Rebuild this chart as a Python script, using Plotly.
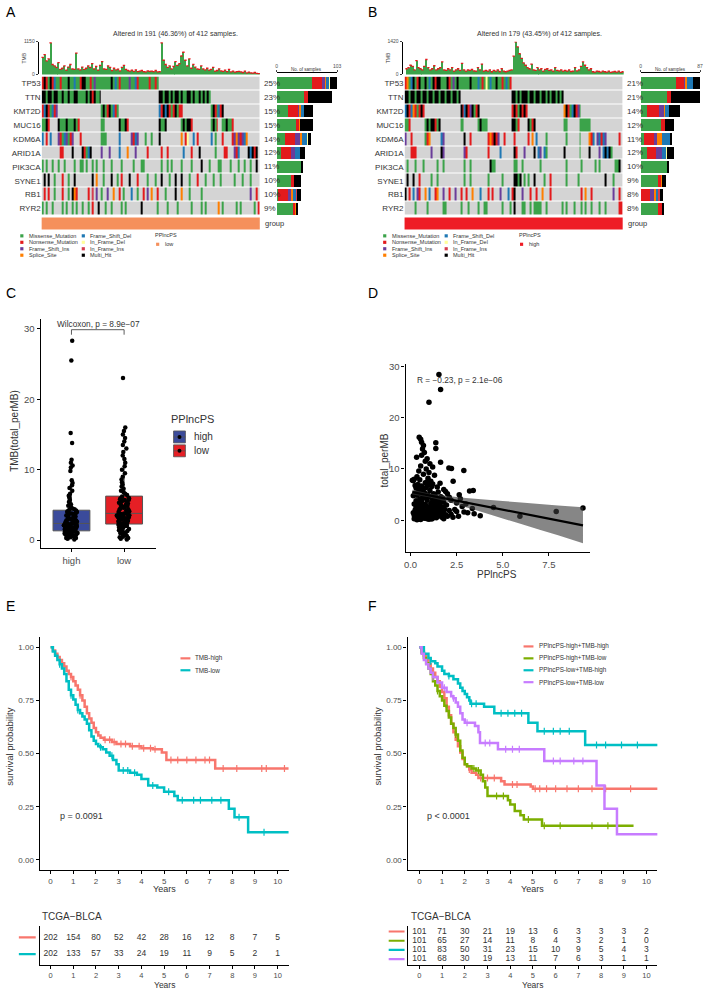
import numpy as np
import plotly.graph_objects as go

W, H = 708, 992
FONT = "Liberation Sans"
GRAY = "#4D4D4D"

# ---------------- oncoplot data (A: PPlncPS low, B: PPlncPS high) ----------------
genes = ["TP53", "TTN", "KMT2D", "MUC16", "KDM6A", "ARID1A", "PIK3CA", "SYNE1", "RB1", "RYR2"]
pct_A = ["25%", "23%", "15%", "15%", "14%", "12%", "11%", "10%", "10%", "9%"]
pct_B = ["21%", "21%", "14%", "12%", "11%", "12%", "10%", "9%", "8%", "8%"]

# one char per sample bin: . none, M missense, N nonsense, I fs_ins, S splice,
# D fs_del, d if_del, i if_ins, H multi_hit
onco_A = [
    "NHNMHNDMMN MMMHMMDMMN HHMMNMIMMM MMMMMHMDMN MMMMIMMDNM MMMMNMMNM. .......... .......... .......... .......... ..........",
    "HHMHHMHHMM HMMHMMHHMM MMHMHNHMMH .......... .......... .........H HMHHMHMHHM HMMHHMHMMH MHMHM..... .......... ..........",
    "NDHNMDNI.. .......... .......... MHMNHMDNM. .......... .........D NHDHNMNHMN N......... .....MHNMD NH........ ..........",
    "MMHN....HM MMHMMMHMN. .......... MM.......H MMHN...... .........H MMH....... MHMHHN.... .....MHMN. .MMHMMN... ..........",
    "D.N.D...IN MDIMNI...N .......... MMM......D .....INDI. ..M..M...H .......... S.Nd..D.N. .....D.M.. .N....NISI NIDS......",
    ".........N N....H.... HNMDH..... I...I....D ...S...I.. ...N...... N..N...... .D...N...H .......M.. ..NN...IND ....HDHNH.",
    "M.M..M..M. .M....M..M M.M..M.M.. .M...M.... M.....M... MM........ M..M.M.... M....M.... H...M....M M....M...M ..M..M..H.",
    ".H.H..M... N..M..H... .....H.S.. .M...H..M. N...H...N. ...M...M.. H...M..H.. H...M...N. ..M...M... M......M.. .M...M....",
    ".N.N..M... N..M.HSN.. ...N.i.I.. M..I..S..N .M...D..M. .N.I.S..N. ..M....H.. S...M..... M......... .......... .....I..N.",
    "M.M..M.... M.M..M.M.. M..M.N..H. ..M..M.... M.M....... H.......M. ...M....M. .....M.... M.M......S .M......M. M......M.N",
]
onco_B = [
    "NSMDHMNHMM HMDMHNHHMM MHNMIMHMMM MMMHMMMDMN MdMDMMHMMN MDMN...... .......... .......... .......... .......... ..........",
    "HHMHHMHHMH HMHHMHHMHH MHHMHHMH.. .......... .......... ....HHMHMH HHMHHMHHMH HMHMHHMHMH .......... .......... ..........",
    "DHNDSNMNHN .......... ........HN DHNIHMNH.. .......... ....NHNMHN HN........ .......... SHNMDHNIM. .......... ..........",
    "MMN....... MHMHHNMH.. ........MM .......MHM MM........ ....HHMN.. ..HMNH.... .......... MM......MM MMMM...... ..........",
    "I..N...... MNS.....DI .......... H..N...... ..NSNHNI.. N....N.... ..N.S.D... .M........ .M......M. ...SND.IDN DI......N.",
    "...NNN.... ...I....HI .......... IN........ ..N.....D. .....HN... I....H.DI. DM........ H.......M. ...H....I. DHDHM.....",
    ".M...M...M ......M..M .......... M..M...... ...HMM.... .....MM..M ........M. .......... .M.......M ......M.M. ......MMH.",
    ".H..H..N.. ...M..M... .......... M..M...... ..M......M .....HHMH. M.M..H.... M..N...... .M.....M.. .......... .H...M....",
    "H.N.D.IN.. S.D..NS..I ..N..I..N. .N..S...D. ..N.N...I. ..D.NH...I ...N..N..S ...N...... .........N .S..N..... .....I..N.",
    ".....M.... .M.......M M.......M. ..M....M.. MM.......M ...M.H...M M..M.MMMM. .M.......M .M...M...M .M..M...M. .M......NN",
]

tmb_A = [600, 700, 480, 550, 1110, 350, 300, 250, 420, 180,
         220, 300, 150, 260, 350, 200, 180, 750, 200, 160,
         260, 180, 220, 300, 250, 380, 200, 280, 150, 320,
         450, 200, 180, 300, 250, 140, 220, 160, 190, 130,
         250, 320, 180, 140, 120, 150, 110, 160, 100, 120,
         140, 100, 90, 130, 110, 120, 100, 140, 90, 100,
         1110, 500, 350, 250, 300, 200, 280, 450, 320, 380,
         650, 780, 500, 300, 550, 220, 350, 260, 200, 180,
         300, 200, 160, 220, 150, 180, 250, 120, 140, 200,
         130, 110, 150, 100, 180, 90, 120, 80, 100, 110,
         90, 70, 120, 60, 80, 60, 50, 70, 40, 30]
tmb_B = [250, 300, 400, 350, 200, 600, 300, 250, 200, 350,
         650, 300, 200, 250, 380, 200, 250, 300, 550, 200,
         180, 250, 200, 300, 150, 200, 250, 180, 480, 200,
         150, 200, 180, 220, 160, 150, 300, 200, 450, 150,
         180, 150, 200, 120, 180, 150, 200, 130, 250, 150,
         120, 150, 180, 200, 800, 1420, 1200, 900, 700, 500,
         400, 300, 250, 450, 200, 180, 300, 200, 250, 150,
         220, 250, 180, 200, 150, 300, 180, 160, 200, 150,
         180, 150, 200, 130, 150, 300, 160, 200, 350, 550,
         400, 300, 200, 250, 120, 100, 150, 130, 100, 150,
         120, 100, 150, 90, 110, 130, 100, 150, 90, 120]

# per-gene sample counts by variant class (right-hand bars)
A_missense = [61, 46, 19, 33, 14, 7, 41, 24, 3, 28]
A_nonsense = [17, 7, 17, 6, 18, 18, 0, 5, 17, 4]
A_fs_ins = [4, 0, 3, 0, 8, 7, 0, 0, 4, 0]
A_splice = [2, 0, 2, 1, 4, 0, 0, 1, 3, 2]
A_fs_del = [6, 0, 6, 0, 8, 8, 0, 0, 6, 0]
A_if_del = [1, 0, 0, 0, 1, 0, 0, 0, 0, 0]
A_if_ins = [0, 0, 0, 0, 1, 0, 0, 0, 1, 0]
A_multi = [12, 42, 15, 22, 4, 9, 4, 11, 7, 3]
B_missense = [52, 39, 9, 30, 5, 9, 38, 25, 1, 25]
B_nonsense = [11, 5, 18, 6, 14, 14, 0, 5, 13, 6]
B_fs_ins = [2, 0, 7, 0, 5, 8, 0, 0, 5, 0]
B_splice = [3, 0, 2, 0, 7, 0, 0, 1, 4, 1]
B_fs_del = [9, 0, 5, 0, 12, 7, 0, 0, 3, 0]
B_if_del = [0, 0, 1, 0, 0, 1, 0, 0, 0, 0]
B_if_ins = [0, 0, 0, 0, 0, 0, 0, 0, 2, 0]
B_multi = [10, 43, 16, 13, 2, 10, 3, 6, 5, 1]

vc_names = ["Missense_Mutation", "Nonsense_Mutation", "Frame_Shift_Ins", "Splice_Site",
            "Frame_Shift_Del", "In_Frame_Del", "In_Frame_Ins", "Multi_Hit"]

# ---------------- C: TMB by group ----------------
C_high = [0.1, 0.2, 0.3, 0.3, 0.4, 0.5, 0.5, 0.6, 0.6, 0.7, 0.7, 0.8, 0.8, 0.9, 0.9, 1.0, 1.0, 1.0, 1.1, 1.1, 1.2, 1.2, 1.2, 1.25, 1.3,
          1.35, 1.4, 1.4, 1.5, 1.5, 1.6, 1.6, 1.7, 1.7, 1.8, 1.8, 1.8, 1.9, 1.9, 2.0, 2.0, 2.0, 2.1, 2.1, 2.2, 2.2, 2.2, 2.3, 2.3, 2.35,
          2.4, 2.5, 2.5, 2.6, 2.7, 2.8, 2.8, 2.9, 3.0, 3.0, 3.1, 3.2, 3.3, 3.4, 3.4, 3.5, 3.6, 3.7, 3.8, 3.8, 3.9, 4.0, 4.0, 4.1, 4.2,
          4.3, 4.4, 4.5, 4.7, 4.9, 5.1, 5.4, 5.7, 6.0, 6.3, 6.6, 7.0, 7.4, 7.8, 8.1, 8.5, 9.8, 10.3, 10.6, 11.0, 11.4, 13.8, 15.2, 25.5, 28.3]
C_low = [0.1, 0.2, 0.3, 0.4, 0.5, 0.6, 0.7, 0.8, 0.9, 1.0, 1.1, 1.2, 1.3, 1.4, 1.5, 1.6, 1.7, 1.8, 1.9, 1.95, 2.0, 2.05, 2.1, 2.2, 2.25,
         2.3, 2.4, 2.45, 2.5, 2.6, 2.7, 2.75, 2.8, 2.9, 3.0, 3.0, 3.1, 3.15, 3.2, 3.3, 3.35, 3.4, 3.45, 3.5, 3.5, 3.55, 3.6, 3.65, 3.7, 3.7,
         3.8, 3.9, 4.0, 4.1, 4.2, 4.3, 4.4, 4.5, 4.6, 4.7, 4.8, 4.9, 5.0, 5.1, 5.2, 5.3, 5.4, 5.5, 5.6, 5.7, 5.75, 5.8, 5.9, 5.95, 6.0,
         6.2, 6.4, 6.6, 6.8, 7.0, 7.3, 7.6, 7.9, 8.2, 8.6, 9.0, 9.5, 10.0, 10.5, 11.0, 11.5, 12.0, 12.5, 13.0, 13.5, 14.0, 14.5, 15.0, 15.5, 16.0, 23.0]

# ---------------- D: PPlncPS vs TMB ----------------
D_x = [1.54, 1.63, 1.0, 0.47, 0.33, 1.37, 1.37, 1.63, 2.08, 2.22, 2.89, 2.31, 3.2, 3.4, 2.64, 3.78, 4.5, 5.93, 7.9, 9.35,
       3.35, 3.1, 3.45, 2.9, 3.0, 2.5, 2.7, 2.4, 2.2, 2.6,
       0.55, 0.6, 0.7, 0.65, 0.75, 0.6, 0.9, 0.8, 1.05, 0.55, 1.2, 0.85, 0.45, 1.0, 0.7, 1.3, 0.35, 0.95, 0.2, 0.15,
       1.6, 1.1, 0.5, 1.45, 1.8, 1.9, 2.0, 0.25, 0.1,
       0.2, 0.3, 0.4, 0.5, 0.6, 0.7, 0.8, 0.9, 1.0, 1.1, 1.2, 1.3, 1.4, 1.5, 1.6, 1.7, 1.8, 1.9, 2.0,
       0.15, 0.25, 0.35, 0.45, 0.55, 0.65, 0.75, 0.85, 0.95, 1.05, 1.15, 1.25, 1.35, 1.45, 1.55, 1.65, 1.75, 1.85, 1.95,
       0.2, 0.3, 0.4, 0.5, 0.6, 0.7, 0.8, 0.9, 1.0, 1.1, 1.2, 1.3, 1.4, 1.5, 1.6, 1.7, 1.8,
       0.15, 0.25, 0.35, 0.45, 0.55, 0.65, 0.75, 0.85, 0.95, 1.05, 1.15, 1.25, 1.35, 1.5, 1.65,
       0.3, 0.4, 0.6, 0.8, 1.0, 1.2, 0.5, 0.9,
       0.2, 0.3, 0.4, 0.5, 0.6, 0.7, 0.8, 0.9, 1.0, 1.1, 1.2, 1.3, 1.4, 1.6, 1.8, 2.1, 2.3, 2.5, 2.8, 2.2, 2.1, 1.75,
       0.35, 0.55, 0.75, 1.15]
D_y = [28.4, 25.5, 23.0, 16.2, 12.3, 15.1, 14.0, 11.3, 10.2, 10.1, 9.7, 7.6, 5.7, 5.8, 5.0, 0.9, 2.5, 0.8, 1.7, 2.4,
       2.3, 1.5, 1.3, 1.6, 3.2, 3.4, 4.2, 2.1, 1.2, 0.8,
       15.8, 15.2, 14.6, 13.9, 13.2, 12.7, 12.0, 11.5, 11.0, 10.6, 10.4, 10.0, 9.6, 9.3, 9.0, 8.8, 8.5, 8.2, 8.0, 7.7,
       7.2, 7.6, 7.9, 6.5, 6.0, 5.6, 5.2, 6.8, 7.8,
       0.3, 0.5, 0.2, 0.8, 0.4, 1.0, 0.6, 0.3, 1.2, 0.7, 0.4, 1.0, 0.5, 1.3, 0.9, 0.6, 1.4, 1.1, 0.8,
       1.5, 2.0, 1.8, 2.5, 1.6, 2.2, 1.9, 2.8, 2.1, 2.6, 1.7, 2.4, 2.0, 2.9, 2.2, 1.8, 2.5, 2.1, 3.0,
       3.2, 3.8, 3.4, 4.1, 3.6, 4.4, 3.1, 3.9, 4.6, 3.3, 4.0, 3.5, 4.3, 3.7, 3.2, 4.0, 3.5,
       4.8, 5.3, 4.9, 5.7, 5.1, 6.0, 5.4, 6.4, 5.0, 5.8, 6.6, 5.2, 4.7, 5.5, 4.6,
       6.3, 7.0, 6.7, 7.3, 6.9, 7.1, 6.1, 7.5,
       1.0, 2.6, 1.1, 3.0, 0.9, 2.9, 1.4, 4.8, 0.2, 2.3, 1.5, 2.8, 1.9, 2.6, 0.3, 1.9, 0.6, 1.7, 2.7, 3.9, 4.5, 4.3,
       0.1, 0.15, 0.4, 0.25]
fit_x = [0.1, 1.0, 2.0, 3.0, 4.0, 5.0, 6.0, 7.0, 8.0, 9.35]
fit_y = [5.5, 4.87, 4.17, 3.47, 2.77, 2.07, 1.37, 0.67, -0.03, -0.97]
fit_hi = [5.95, 5.22, 4.72, 4.37, 4.07, 3.77, 3.47, 3.17, 2.87, 2.53]
fit_lo = [5.05, 4.52, 3.62, 2.57, 1.47, 0.37, -0.73, -1.83, -2.93, -4.47]

# ---------------- E / F: Kaplan-Meier ----------------
E_high_t = [0, 0.1, 0.2, 0.3, 0.4, 0.5, 0.6, 0.7, 0.8, 0.9, 1.0, 1.1, 1.2, 1.3, 1.4, 1.5, 1.6, 1.7, 1.8, 1.9, 2.0, 2.1, 2.2,
            2.35, 2.5, 2.7, 2.9, 3.1, 3.5, 4.0, 4.5, 4.9, 5.1, 5.5, 7.2, 7.25, 10.5]
E_high_s = [1.0, 0.985, 0.97, 0.955, 0.94, 0.925, 0.91, 0.89, 0.875, 0.86, 0.84, 0.82, 0.80, 0.775, 0.75, 0.72, 0.69, 0.665,
            0.645, 0.62, 0.60, 0.585, 0.575, 0.565, 0.565, 0.555, 0.545, 0.545, 0.535, 0.525, 0.52, 0.505, 0.47, 0.47, 0.47, 0.43, 0.43]
E_low_t = [0, 0.1, 0.2, 0.3, 0.4, 0.5, 0.6, 0.7, 0.8, 0.9, 1.0, 1.1, 1.2, 1.3, 1.4, 1.5, 1.6, 1.7, 1.8, 1.9, 2.0, 2.1, 2.2, 2.3,
           2.45, 2.6, 2.75, 2.9, 3.0, 3.5, 3.8, 4.0, 4.3, 4.7, 5.0, 5.45, 5.6, 7.8, 7.85, 8.1, 8.7, 10.5]
E_low_s = [1.0, 0.98, 0.96, 0.94, 0.92, 0.90, 0.875, 0.84, 0.80, 0.775, 0.755, 0.73, 0.705, 0.69, 0.675, 0.66, 0.64, 0.61, 0.58,
           0.56, 0.545, 0.535, 0.53, 0.52, 0.505, 0.49, 0.47, 0.45, 0.42, 0.41, 0.40, 0.38, 0.35, 0.34, 0.32, 0.30, 0.28, 0.28,
           0.24, 0.20, 0.13, 0.13]
E_high_cens = [0.3, 0.9, 1.3, 2.4, 2.6, 2.8, 3.1, 3.3, 3.6, 3.9, 4.1, 4.4, 4.6, 5.3, 5.6, 6.0, 6.4, 6.8, 7.0, 7.6, 8.2, 9.3, 9.5, 10.3]
E_low_cens = [0.4, 0.9, 1.2, 2.2, 2.7, 3.2, 3.4, 3.7, 4.5, 5.2, 5.8, 6.3, 6.6, 7.1, 7.5, 8.3, 9.4]

F_hh_t = [0, 0.1, 0.2, 0.3, 0.4, 0.5, 0.6, 0.7, 0.8, 0.9, 1.0, 1.1, 1.2, 1.3, 1.4, 1.5, 1.6, 1.7, 1.8, 1.9, 2.0, 2.1, 2.2, 2.3,
          2.5, 2.6, 3.6, 3.75, 4.9, 5.0, 10.5]
F_hh_s = [1.0, 0.98, 0.96, 0.94, 0.92, 0.90, 0.88, 0.86, 0.84, 0.815, 0.79, 0.76, 0.72, 0.68, 0.64, 0.60, 0.565, 0.535, 0.505,
          0.475, 0.45, 0.44, 0.425, 0.41, 0.40, 0.385, 0.37, 0.355, 0.345, 0.335, 0.335]
F_hl_t = [0, 0.1, 0.2, 0.3, 0.4, 0.5, 0.6, 0.7, 0.8, 0.9, 1.0, 1.1, 1.2, 1.3, 1.4, 1.5, 1.6, 1.7, 1.8, 1.9, 2.0, 2.1, 2.3, 2.5,
          2.7, 2.8, 2.9, 3.0, 3.9, 4.0, 4.2, 4.45, 4.6, 5.4, 9.43]
F_hl_s = [1.0, 0.975, 0.95, 0.925, 0.90, 0.875, 0.84, 0.82, 0.795, 0.77, 0.75, 0.725, 0.70, 0.67, 0.64, 0.62, 0.59, 0.56, 0.515,
          0.48, 0.45, 0.44, 0.43, 0.42, 0.40, 0.37, 0.34, 0.30, 0.28, 0.26, 0.23, 0.21, 0.19, 0.16, 0.16]
F_lh_t = [0, 0.2, 0.4, 0.5, 0.7, 0.8, 1.0, 1.1, 1.3, 1.5, 1.7, 1.8, 1.9, 2.0, 2.1, 2.2, 2.25, 2.85, 3.3, 4.8, 5.2, 7.3, 10.5]
F_lh_s = [1.0, 0.97, 0.95, 0.935, 0.925, 0.91, 0.89, 0.875, 0.865, 0.85, 0.83, 0.81, 0.795, 0.78, 0.765, 0.75, 0.735, 0.72,
          0.69, 0.645, 0.605, 0.54, 0.54]
F_ll_t = [0, 0.1, 0.2, 0.3, 0.4, 0.5, 0.6, 0.8, 1.0, 1.2, 1.4, 1.5, 1.6, 1.7, 1.8, 1.9, 2.0, 2.45, 2.6, 2.67, 3.46, 5.5, 7.8,
          8.15, 8.7, 10.5]
F_ll_s = [1.0, 0.97, 0.94, 0.92, 0.90, 0.88, 0.86, 0.835, 0.81, 0.79, 0.77, 0.76, 0.74, 0.72, 0.69, 0.66, 0.645, 0.63, 0.60,
          0.55, 0.52, 0.465, 0.35, 0.24, 0.12, 0.12]
F_hh_cens = [0.6, 1.1, 2.2, 2.7, 3.0, 3.3, 4.1, 4.3, 5.1, 5.3, 5.6, 6.0, 6.5, 7.0, 7.6, 8.2, 9.3]
F_hl_cens = [0.8, 1.6, 2.4, 2.6, 3.4, 3.7, 4.8, 5.5, 6.2, 7.6, 8.3]
F_lh_cens = [0.5, 1.3, 2.3, 2.5, 3.6, 3.9, 4.2, 4.5, 5.5, 5.9, 6.2, 6.6, 7.8, 8.2, 8.9, 9.6]
F_ll_cens = [0.6, 1.1, 1.5, 2.1, 2.9, 3.1, 3.8, 4.1, 4.4, 5.9, 6.2, 6.8, 7.2]

years = list(range(11))
risk_E_high = [202, 154, 80, 52, 42, 28, 16, 12, 8, 7, 5]
risk_E_low = [202, 133, 57, 33, 24, 19, 11, 9, 5, 2, 1]
risk_F_hh = [101, 71, 30, 21, 19, 13, 6, 3, 3, 3, 2]
risk_F_hl = [101, 65, 27, 14, 11, 8, 4, 3, 2, 1, 0]
risk_F_lh = [101, 83, 50, 31, 23, 15, 10, 9, 5, 4, 3]
risk_F_ll = [101, 68, 30, 19, 13, 11, 7, 6, 3, 1, 1]

# ---------------- styling ----------------
code = {".": 0, "M": 1, "N": 2, "I": 3, "S": 4, "D": 5, "d": 6, "i": 7, "H": 8}
vc_col = ["#D4D4D4", "#3BA34A", "#E31A1C", "#6A3D9A", "#FF7F00", "#1F78B4", "#FFFF99", "#D53E4F", "#000000"]
scale = []
for k, c in enumerate(vc_col):
    scale += [[k / 9, c], [(k + 1) / 9, c]]
KM_RED, KM_GRN, KM_CYA, KM_PUR = "#F8766D", "#7CAE00", "#00BFC4", "#C77CFF"
NCOL = 110


def dx(a, b):
    return [a / W, b / W]


def dy(top, bot):
    return [1 - bot / H, 1 - top / H]


def px(x):
    return x / W


def py(y):
    return 1 - y / H


fig = go.Figure()
annots, shapes = [], []


def ann(text, x, y, size, xa="left", ya="middle", color="#333333", angle=0):
    annots.append(dict(text=text, x=px(x), y=py(y), xref="paper", yref="paper", xanchor=xa, yanchor=ya,
                       showarrow=False, textangle=angle, font=dict(size=size, color=color, family=FONT)))


def rect(x0, y0, x1, y1, fill, line=None, lw=0):
    shapes.append(dict(type="rect", xref="paper", yref="paper", x0=px(x0), x1=px(x1), y0=py(y1), y1=py(y0),
                       fillcolor=fill, line=dict(color=line or fill, width=lw)))


axes = {}
panels = [
    dict(onco=onco_A, tmb=tmb_A, tmax=1150, pct=pct_A, cnt=[A_missense, A_nonsense, A_fs_ins, A_splice,
                                                            A_fs_del, A_if_del, A_if_ins, A_multi],
         cmax=103, n=(1, 2, 3), bar_dom=(37, 260), hm_dom=(40, 260), rb_dom=(277, 338), pct_x=262,
         title="Altered in 191 (46.36%) of 412 samples.", title_x=175, grp_col="#F5905C", grp_lab="low",
         leg_x=(20, 82, 152)),
    dict(onco=onco_B, tmb=tmb_B, tmax=1420, pct=pct_B, cnt=[B_missense, B_nonsense, B_fs_ins, B_splice,
                                                            B_fs_del, B_if_del, B_if_ins, B_multi],
         cmax=87, n=(4, 5, 6), bar_dom=(404, 627), hm_dom=(406, 626), rb_dom=(644, 704), pct_x=628,
         title="Altered in 179 (43.45%) of 412 samples.", title_x=542, grp_col="#EE1C25", grp_lab="high",
         leg_x=(386, 448, 519)),
]

for p in panels:
    nb, nh, nr = p["n"]
    # top TMB bars
    xs = list(range(NCOL))
    fig.add_trace(go.Bar(x=xs, y=p["tmb"], marker=dict(color="#3BA34A", line=dict(width=0)), width=0.85,
                         xaxis=f"x{nb}", yaxis=f"y{nb}", hoverinfo="skip"))
    fig.add_trace(go.Scatter(x=xs, y=p["tmb"], mode="markers", xaxis=f"x{nb}", yaxis=f"y{nb}", hoverinfo="skip",
                             marker=dict(symbol="line-ew", size=1.7, line=dict(color="#E31A1C", width=1.3))))
    axes[f"xaxis{nb}"] = dict(domain=dx(*p["bar_dom"]), range=[-2, NCOL - 0.5], visible=False, anchor=f"y{nb}")
    axes[f"yaxis{nb}"] = dict(domain=dy(38, 71), range=[0, p["tmax"]], tickvals=[0, p["tmax"]], ticks="outside",
                              ticklen=2, showline=True, linecolor="black", linewidth=1, anchor=f"x{nb}",
                              tickfont=dict(size=5, color=GRAY), showgrid=False, zeroline=False)
    ann("TMB", p["bar_dom"][0] - 15, 54, 5, xa="center", angle=-90)
    # oncoplot matrix
    z = [[code[ch] for ch in row.replace(" ", "")[:NCOL].ljust(NCOL, ".")] for row in p["onco"]]
    fig.add_trace(go.Heatmap(z=z, x=xs, y=list(range(10)), colorscale=scale, zmin=-0.5, zmax=8.5,
                             showscale=False, ygap=1, xaxis=f"x{nh}", yaxis=f"y{nh}", hoverinfo="skip"))
    axes[f"xaxis{nh}"] = dict(domain=dx(*p["hm_dom"]), range=[-0.5, NCOL - 0.5], visible=False, anchor=f"y{nh}")
    axes[f"yaxis{nh}"] = dict(domain=dy(73, 213), range=[9.5, -0.5], tickvals=list(range(10)), ticktext=genes,
                              ticks="", showline=False, showgrid=False, zeroline=False, anchor=f"x{nh}",
                              tickfont=dict(size=8, color="#333333"))
    for i, t in enumerate(p["pct"]):
        ann(t, p["pct_x"], 73 + 14 * i + 7, 8)
    # right-hand bars
    for k, vals in enumerate(p["cnt"]):
        fig.add_trace(go.Bar(x=vals, y=list(range(10)), orientation="h", width=0.86,
                             marker=dict(color=vc_col[k + 1], line=dict(width=0)),
                             xaxis=f"x{nr}", yaxis=f"y{nr}", hoverinfo="skip"))
    axes[f"xaxis{nr}"] = dict(domain=dx(*p["rb_dom"]), range=[0, p["cmax"]], side="top", anchor=f"y{nr}",
                              tickvals=[0, p["cmax"]], ticks="outside", ticklen=2, showline=True,
                              linecolor="black", linewidth=0.8, tickfont=dict(size=5, color=GRAY),
                              showgrid=False, zeroline=False)
    axes[f"yaxis{nr}"] = dict(domain=dy(69, 213), range=[9.5, -0.786], visible=False, anchor=f"x{nr}")
    ann("No. of samples", sum(p["rb_dom"]) / 2, 66, 4.5, xa="center")
    # title, group bar, legend
    ann(p["title"], p["title_x"], 30, 7, xa="center")
    rect(p["hm_dom"][0], 215, p["hm_dom"][1], 227, p["grp_col"])
    ann("group", p["pct_x"] + 1, 221, 7.5)
    c1, c2, c3 = p["leg_x"]
    for k, nm in enumerate(vc_names):
        cx = c1 if k < 4 else c2
        yy = [233.5, 240, 246.5, 253][k % 4]
        rect(cx - 1.6, yy - 1.6, cx + 1.6, yy + 1.6, vc_col[k + 1])
        ann(nm, cx + 5, yy, 5.5)
    ann("PPlncPS", c3, 233, 5.5)
    rect(c3 + 3.4, 240.4, c3 + 6.6, 243.6, p["grp_col"])
    ann(p["grp_lab"], c3 + 10, 242, 5.5)

# ---------------- C ----------------
fig.add_trace(go.Box(y=C_high, x=[0] * len(C_high), width=0.7, fillcolor="#3B4B9B", boxpoints="all", jitter=0.45,
                     pointpos=0, whiskerwidth=0, line=dict(color="#555555", width=1),
                     marker=dict(color="black", size=4.5), xaxis="x7", yaxis="y7", hoverinfo="skip"))
fig.add_trace(go.Box(y=C_low, x=[1] * len(C_low), width=0.7, fillcolor="#E51F25", boxpoints="all", jitter=0.45,
                     pointpos=0, whiskerwidth=0, line=dict(color="#555555", width=1),
                     marker=dict(color="black", size=4.5), xaxis="x7", yaxis="y7", hoverinfo="skip"))
axis_gg = dict(showgrid=False, zeroline=False, showline=True, linecolor="black", linewidth=1.3, ticks="outside",
               ticklen=3, tickcolor="black")
axes["xaxis7"] = dict(axis_gg, domain=dx(39, 155), range=[-0.585, 1.6], tickvals=[0, 1], ticktext=["high", "low"],
                      anchor="y7", tickfont=dict(size=9.5, color=GRAY))
axes["yaxis7"] = dict(axis_gg, domain=dy(317, 548), range=[-1.13, 31.41], tickvals=[0, 10, 20, 30], anchor="x7",
                      tickfont=dict(size=9.5, color=GRAY))
for x0, y0, x1, y1 in [(0, 29.15, 0, 29.86), (0, 29.86, 1, 29.86), (1, 29.86, 1, 29.15)]:
    shapes.append(dict(type="line", xref="x7", yref="y7", x0=x0, y0=y0, x1=x1, y1=y1,
                       line=dict(color="#333333", width=0.8)))
ann("Wilcoxon, p = 8.9e\u221207", 97, 322, 8.3, xa="center")
ann("TMB(total_perMB)", 13, 430, 10, xa="center", angle=-90)
ann("PPlncPS", 168, 418, 11)
for yy, col, lab in [(436, "#3B4B9B", "high"), (450, "#E51F25", "low")]:
    rect(173, yy - 6, 185, yy + 6, col, "#555555", 0.8)
    shapes.append(dict(type="line", xref="paper", yref="paper", x0=px(173), x1=px(185), y0=py(yy), y1=py(yy),
                       line=dict(color="#555555", width=0.8)))
    shapes.append(dict(type="circle", xref="paper", yref="paper", x0=px(177), x1=px(181), y0=py(yy + 2),
                       y1=py(yy - 2), fillcolor="black", line=dict(width=0)))
    ann(lab, 192, yy, 10)

# ---------------- D ----------------
fig.add_trace(go.Scatter(x=D_x, y=D_y, mode="markers", marker=dict(color="black", size=5.5),
                         xaxis="x8", yaxis="y8", hoverinfo="skip"))
fig.add_trace(go.Scatter(x=fit_x + fit_x[::-1], y=fit_hi + fit_lo[::-1], fill="toself", mode="none",
                         fillcolor="rgba(60,60,60,0.62)", xaxis="x8", yaxis="y8", hoverinfo="skip"))
fig.add_trace(go.Scatter(x=fit_x, y=fit_y, mode="lines", line=dict(color="black", width=2.2),
                         xaxis="x8", yaxis="y8", hoverinfo="skip"))
axes["xaxis8"] = dict(axis_gg, domain=dx(407, 593), range=[-0.27, 9.73], tickvals=[0, 2.5, 5, 7.5],
                      ticktext=["0.0", "2.5", "5.0", "7.5"], anchor="y8", tickfont=dict(size=9.5, color=GRAY))
axes["yaxis8"] = dict(axis_gg, domain=dy(363, 552), range=[-6.19, 30.37], tickvals=[0, 10, 20, 30], anchor="x8",
                      tickfont=dict(size=9.5, color=GRAY))
ann("R = \u22120.23, p = 2.1e\u221206", 417, 379, 8.3)
ann("total_perMB", 386, 460, 10, xa="center", angle=-90)
ann("PPlncPS", 499, 575, 10, xa="center")


# ---------------- E / F ----------------
def km(t, s, cens, col, xa, ya):
    fig.add_trace(go.Scatter(x=t, y=s, mode="lines", line=dict(shape="hv", width=2.5, color=col),
                             xaxis=xa, yaxis=ya, hoverinfo="skip"))
    tt, ss = np.array(t), np.array(s)
    cy = ss[np.searchsorted(tt, cens, side="right") - 1]
    fig.add_trace(go.Scatter(x=cens, y=cy, mode="markers", xaxis=xa, yaxis=ya, hoverinfo="skip",
                             marker=dict(symbol="line-ns", size=5, line=dict(color=col, width=1.2))))


km(E_high_t, E_high_s, E_high_cens, KM_RED, "x9", "y9")
km(E_low_t, E_low_s, E_low_cens, KM_CYA, "x9", "y9")
km(F_hh_t, F_hh_s, F_hh_cens, KM_RED, "x11", "y11")
km(F_hl_t, F_hl_s, F_hl_cens, KM_GRN, "x11", "y11")
km(F_lh_t, F_lh_s, F_lh_cens, KM_CYA, "x11", "y11")
km(F_ll_t, F_ll_s, F_ll_cens, KM_PUR, "x11", "y11")

for xn, yn, rxn, ryn, dom, xr, nrows in [(9, 9, 10, 10, (38, 289), [-0.48, 10.48], 2),
                                         (11, 11, 12, 12, (409, 661), [-0.52, 10.48], 4)]:
    axes[f"xaxis{xn}"] = dict(axis_gg, domain=dx(*dom), range=xr, tickvals=years, anchor=f"y{yn}",
                              tickfont=dict(size=8, color=GRAY))
    axes[f"yaxis{yn}"] = dict(axis_gg, domain=dy(637, 872), range=[-0.047, 1.051],
                              tickvals=[0, 0.25, 0.5, 0.75, 1], ticktext=["0.00", "0.25", "0.50", "0.75", "1.00"],
                              anchor=f"x{xn}", tickfont=dict(size=8, color=GRAY))
    axes[f"xaxis{rxn}"] = dict(axis_gg, domain=dx(*dom), range=xr, tickvals=years, anchor=f"y{ryn}",
                               tickfont=dict(size=7.5, color=GRAY))
    rr = [-0.65, 1.65] if nrows == 2 else [-0.55, 3.65]
    axes[f"yaxis{ryn}"] = dict(showgrid=False, zeroline=False, showline=True, linecolor="black", linewidth=1.3,
                               domain=dy(929, 968), range=rr[::-1], showticklabels=False, ticks="",
                               anchor=f"x{rxn}")

for i, (vals, col) in enumerate([(risk_E_high, KM_RED), (risk_E_low, KM_CYA)]):
    fig.add_trace(go.Scatter(x=years, y=[i] * 11, mode="text", text=[str(v) for v in vals],
                             textfont=dict(size=8.5, color="#333333", family=FONT), xaxis="x10", yaxis="y10",
                             hoverinfo="skip"))
    shapes.append(dict(type="line", xref="paper", yref="y10", x0=px(17), x1=px(34), y0=i, y1=i,
                       line=dict(color=col, width=2.2)))
for i, (vals, col) in enumerate([(risk_F_hh, KM_RED), (risk_F_hl, KM_GRN), (risk_F_lh, KM_CYA),
                                 (risk_F_ll, KM_PUR)]):
    fig.add_trace(go.Scatter(x=years, y=[i] * 11, mode="text", text=[str(v) for v in vals],
                             textfont=dict(size=8.5, color="#333333", family=FONT), xaxis="x12", yaxis="y12",
                             hoverinfo="skip"))
    shapes.append(dict(type="line", xref="paper", yref="y12", x0=px(390), x1=px(406), y0=i, y1=i,
                       line=dict(color=col, width=2.2)))

# KM legends
for yy, col, lab in [(659, KM_RED, "TMB-high"), (671, KM_CYA, "TMB-low")]:
    shapes.append(dict(type="line", xref="paper", yref="paper", x0=px(180), x1=px(190), y0=py(yy), y1=py(yy),
                       line=dict(color=col, width=2.2)))
    ann(lab, 193, yy, 6.3)
for yy, col, lab in [(647, KM_RED, "PPlncPS-high+TMB-high"), (659, KM_GRN, "PPlncPS-high+TMB-low"),
                     (671, KM_CYA, "PPlncPS-low+TMB-high"), (683, KM_PUR, "PPlncPS-low+TMB-low")]:
    shapes.append(dict(type="line", xref="paper", yref="paper", x0=px(526), x1=px(536), y0=py(yy), y1=py(yy),
                       line=dict(color=col, width=2.2)))
    ann(lab, 540, yy, 6.3)

ann("p = 0.0091", 56, 818, 9)
ann("p < 0.0001", 427, 818, 9)
for cx, lx in [(163.5, 8), (535.5, 379)]:
    ann("survival probability", lx, 748, 9.5, xa="center", angle=-90)
    ann("Years", cx, 891, 9, xa="center")
    ann("Years", cx, 987.5, 8.5, xa="center")
ann("TCGA\u2212BLCA", 38, 919, 10)
ann("TCGA\u2212BLCA", 410, 919, 10)

for lab, x, y in [("A", 2, 8), ("B", 367, 8), ("C", 2, 291), ("D", 367, 291), ("E", 2, 606), ("F", 367, 606)]:
    ann(lab, x, y, 14, color="black")

fig.update_layout(width=W, height=H, margin=dict(l=0, r=0, t=0, b=0), showlegend=False, barmode="stack",
                  paper_bgcolor="white", plot_bgcolor="white", font=dict(family=FONT, color="#333333"),
                  annotations=annots, shapes=shapes, **axes)
fig.write_html("out.html", config={"displayModeBar": False},
               post_script="document.body.style.margin='0';")
